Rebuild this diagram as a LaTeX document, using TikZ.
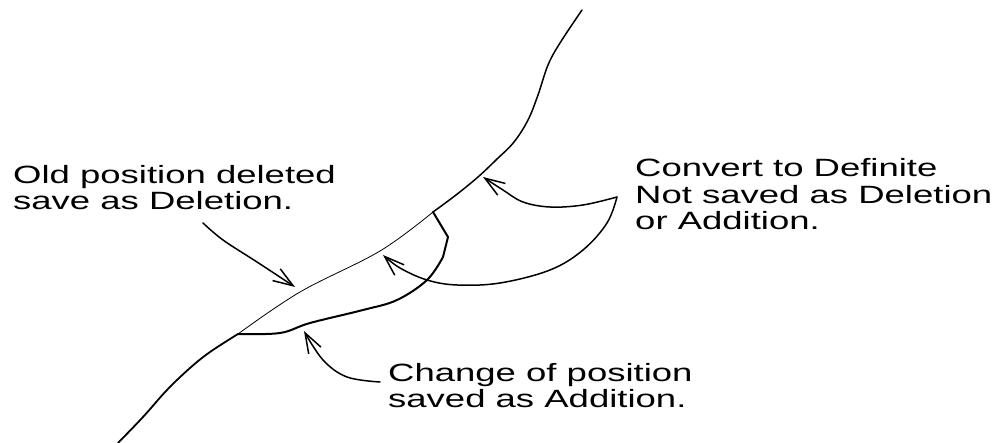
\documentclass[tikz,border=0pt]{standalone}
\usepackage{fontspec}
\setmainfont{Liberation Sans}[FakeStretch=1.46]
\usetikzlibrary{arrows.meta}

\begin{document}
\begin{tikzpicture}[x=1pt,y=-1pt,>={Straight Barb[length=20pt,width=14pt]},
  line/.style={line width=1.5pt,line join=round,line cap=round},
  hair/.style={line width=0.8pt},
  lbl/.style={align=left,inner sep=0pt,anchor=base west,font=\fontsize{25}{26.5}\selectfont}]
\useasboundingbox (0,0) rectangle (999,443);

% edge of the object and the two junctions
\coordinate (top) at (582,10);
\coordinate (J1) at (433,212);
\coordinate (J2) at (238,334);
\coordinate (bot) at (118,443);
\coordinate (kink) at (448,237);
\coordinate (tip) at (617,197);

\draw[line] plot[smooth,tension=0.6] coordinates {(top) (560,43) (548,65) (538,95) (528,120) (514,142) (496,160) (478,177) (456,195) (J1)};
\draw[hair] plot[smooth,tension=0.6] coordinates {(J1) (380,251) (300,292) (J2)};
\draw[line,line width=1.8pt] plot[smooth,tension=0.6] coordinates {(J2) (210,352) (190,368) (167,390) (143,417) (bot)};

% new position
\draw[line,line width=2pt] (J1) -- (kink) -- (443,257) plot[smooth,tension=0.6] coordinates {(443,257) (427,280) (397,300) (363,310) (310,323) (280,333) (J2)};

% labels
\node[lbl] (old) at (13,210) {Old position deleted\\save as Deletion.};
\node[lbl] (conv) at (635,230) {Convert to Definite\\Not saved as Deletion\\or Addition.};
\node[lbl] (chg) at (388,408) {Change of position\\saved as Addition.};

% arrows
\coordinate (oldtail) at (203,223);
\coordinate (oldhead) at (295,287);
\coordinate (chgtail) at (380,382);
\coordinate (chghead) at (304,331);
\coordinate (convhead) at (483,177);
\coordinate (addhead) at (383,255);

\draw[line,->] plot[smooth,tension=0.6] coordinates {(oldtail) (223,240) (257,262) (oldhead)};
\draw[line,->] plot[smooth,tension=0.6] coordinates {(chgtail) (347,377) (323,360) (chghead)};
\draw[line,->] plot[smooth,tension=0.6] coordinates {(tip) (583,205) (550,207) (523,202) (503,190) (convhead)};
\draw[line,->] plot[smooth,tension=0.6] coordinates {(tip) (607,223) (583,250) (550,270) (500,283) (457,285) (427,280) (400,268) (addhead)};
\end{tikzpicture}
\end{document}
